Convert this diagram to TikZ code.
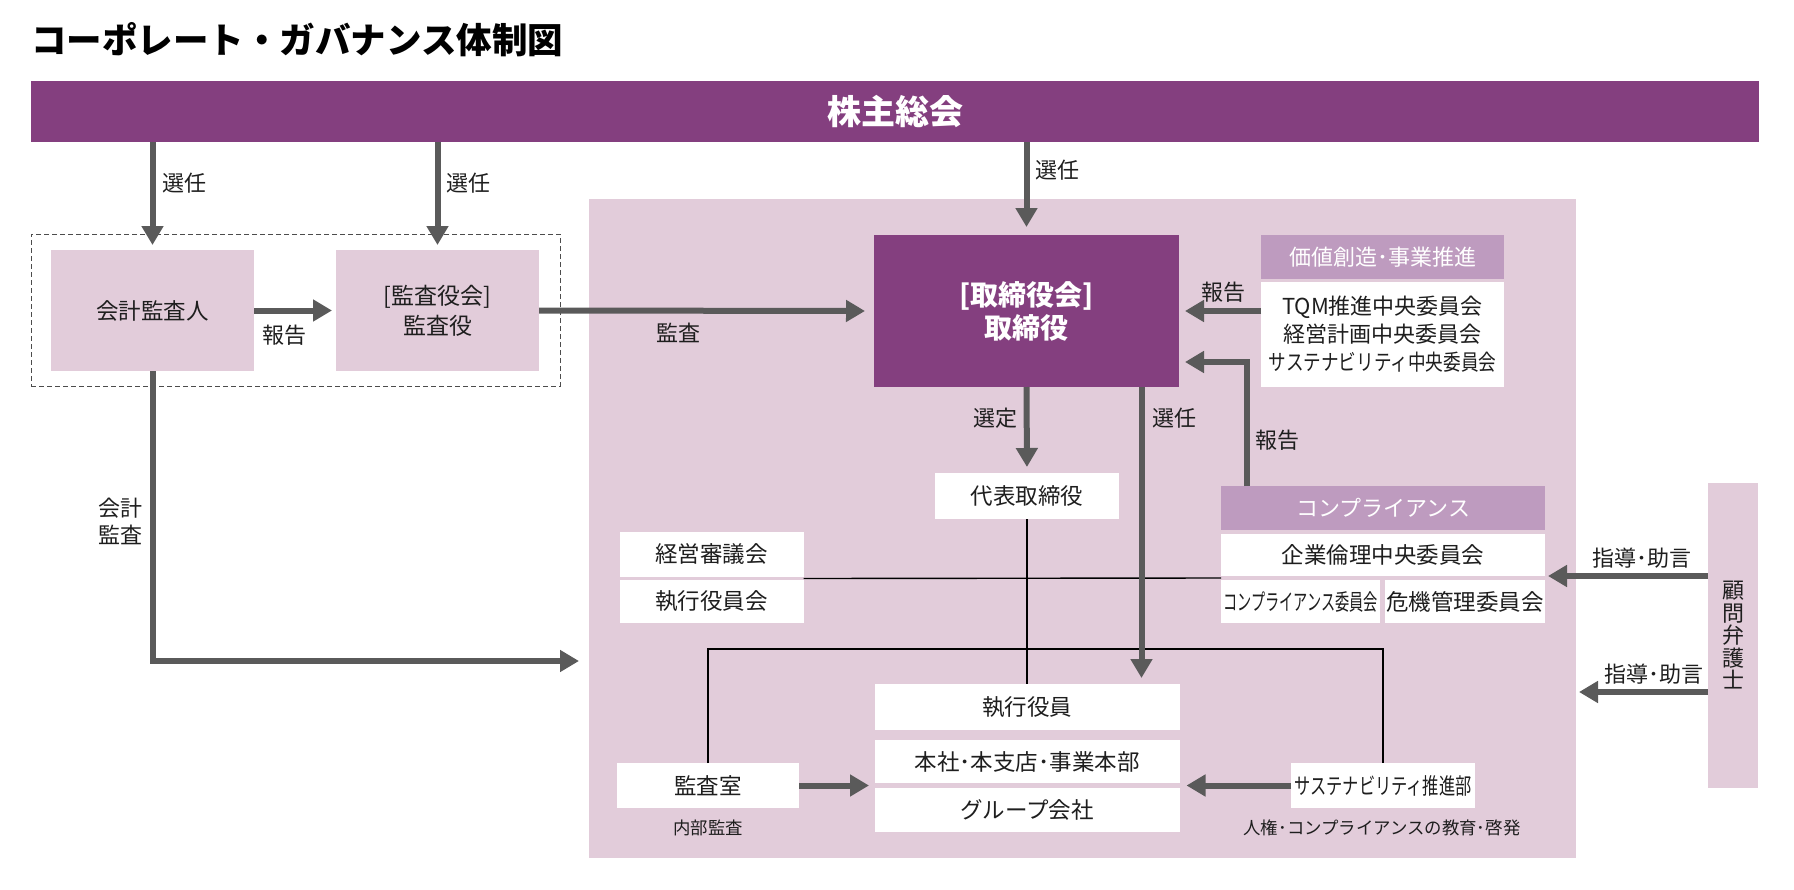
\documentclass[tikz,border=0pt]{standalone}
\usepackage{fontspec}
\setmainfont{Noto Sans CJK JP}
\newfontfamily\narrowtqm[FakeStretch=0.8]{Noto Sans CJK JP}
\newfontfamily\narrowsus[FakeStretch=0.72]{Noto Sans CJK JP}
\newfontfamily\narrowcomp[FakeStretch=0.63]{Noto Sans CJK JP}
\usepackage{tikz}
\usetikzlibrary{arrows.meta}
\usetikzlibrary{calc}
\usetikzlibrary{positioning}
\definecolor{gpurple}{HTML}{843F7F}
\definecolor{gheader}{HTML}{BE9BBF}
\definecolor{gpink}{HTML}{E2CCDA}
\definecolor{garrowc}{HTML}{5A5A5A}
\definecolor{gtext}{HTML}{1E1E1E}
\tikzset{
    gbox/.style={inner sep=0pt, outer sep=0pt, align=center, text=gtext, font=\fontsize{22.5pt}{28pt}\selectfont},
    pinkbox/.style={gbox, fill=gpink},
    whitebox/.style={gbox, fill=white},
    headbox/.style={gbox, fill=gheader, text=white, font=\fontsize{22pt}{28pt}\selectfont},
    lbl/.style={inner sep=0pt, align=center, text=gtext, font=\fontsize{22pt}{27pt}\selectfont},
    smalllbl/.style={inner sep=0pt, text=gtext, font=\fontsize{17.4pt}{20pt}\selectfont},
    garrow/.style={draw=garrowc, line width=6pt, -{Triangle[width=21pt,length=19pt]}},
    thinline/.style={draw=black, line width=1.4pt},
}

\begin{document}
\begin{tikzpicture}[x=1pt,y=-1pt]
        \useasboundingbox (0,0) rectangle (1794,889);
        \node[anchor=west, inner sep=0pt, text=black, font=\fontsize{35.5pt}{40pt}\selectfont\bfseries] (title) at (31,40) {コーポレート・ガバナンス体制図};
        \node[gbox, fill=gpurple, text=white, minimum width=1728pt, minimum height=61pt, font=\fontsize{34pt}{40pt}\selectfont\bfseries] (meeting) at (895,111.5) {株主総会};
        % areas
        \node[fill=gpink, inner sep=0pt, minimum width=987pt, minimum height=659pt] (area) at (1082.5,528.5) {};
        \node[draw=black!70, line width=1pt, dash pattern=on 5pt off 3pt, inner sep=0pt, minimum width=529pt, minimum height=152pt] (auditgrp) at (295.5,310) {};
        \node[pinkbox, minimum width=203pt, minimum height=121pt] (cpa) at (152.5,310.5) {会計監査人};
        \node[pinkbox, minimum width=203pt, minimum height=121pt, font=\fontsize{23pt}{30pt}\selectfont] (auditors) at (437.5,310.5) {[監査役会]\\監査役};
        \node[gbox, fill=gpurple, text=white, minimum width=305pt, minimum height=152pt, font=\fontsize{28pt}{33pt}\selectfont\bfseries] (board) at (1026.5,311) {[取締役会]\\取締役};
        \node[headbox, minimum width=243pt, minimum height=44pt] (valuehead) at (1382.5,257) {価値創造･事業推進};
        \node[whitebox, minimum width=243pt, minimum height=105pt, font=\fontsize{22pt}{28pt}\selectfont] (tqm) at (1382.5,334.5) {TQM推進中央委員会\\経営計画中央委員会\\{\narrowtqm サステナビリティ中央委員会}};
        \node[whitebox, minimum width=184pt, minimum height=46pt] (rep) at (1027,496) {代表取締役};
        \node[whitebox, minimum width=184pt, minimum height=45pt] (council) at (711.5,554.5) {経営審議会};
        \node[whitebox, minimum width=184pt, minimum height=43pt] (officers) at (711.5,601.5) {執行役員会};
        \node[headbox, minimum width=324pt, minimum height=44pt] (comphead) at (1383,508) {コンプライアンス};
        \node[whitebox, minimum width=324pt, minimum height=42pt] (ethics) at (1383,555) {企業倫理中央委員会};
        \node[whitebox, minimum width=159pt, minimum height=43pt] (compcom) at (1300.5,601.5) {\narrowcomp コンプライアンス委員会};
        \node[whitebox, minimum width=160pt, minimum height=43pt] (crisis) at (1465,601.5) {危機管理委員会};
        \node[pinkbox, minimum width=50pt, minimum height=305pt, font=\fontsize{22pt}{22.5pt}\selectfont] (lawyer) at (1733,635.5) {顧\\問\\弁\\護\\士};
        \node[whitebox, minimum width=305pt, minimum height=46pt] (exec) at (1027,707) {執行役員};
        \node[whitebox, minimum width=305pt, minimum height=43pt] (head) at (1027,761.5) {本社･本支店･事業本部};
        \node[whitebox, minimum width=305pt, minimum height=44pt] (group) at (1027,810) {グループ会社};
        \node[whitebox, minimum width=182pt, minimum height=45pt] (auditroom) at (708,785.5) {監査室};
        \node[whitebox, minimum width=184pt, minimum height=45pt] (susdept) at (1383,785.5) {\narrowsus サステナビリティ推進部};
        \node[smalllbl] (internal) at (708,828) {内部監査};
        \node[smalllbl] (edu) at (1382,828) {人権･コンプライアンスの教育･啓発};
        % thin lines
        \draw[thinline] (rep.south) -- (rep.south |- exec.north);
        \draw[thinline] ($(council.south east)!0.5!(officers.north east)$) -- ($(ethics.south west)!0.5!(compcom.north west)$);
        \draw[thinline] (auditroom.north) -- ++(0,-114) -| (susdept.north);
        % arrows
        \coordinate (cpaend) at (579,661);
        \coordinate (advend) at (1579,692);
        \draw[garrow, shorten >=5pt] (meeting.south -| cpa.north) -- (cpa.north);
        \draw[garrow, shorten >=5pt] (meeting.south -| auditors.north) -- (auditors.north);
        \draw[garrow, shorten >=8pt] (meeting.south -| board.north) -- (board.north);
        \draw[garrow, shorten >=4pt] (cpa.east) -- (auditors.west);
        \draw[garrow, shorten >=9pt] (auditors.east) -- (board.west);
        \draw[garrow] (cpa.south) |- (cpaend);
        \draw[garrow, shorten >=6pt] (tqm.west |- board.east) -- (board.east);
        \draw[garrow, shorten >=6pt] ([xshift=25.5pt]comphead.north west) |- ([yshift=-51pt]board.east);
        \draw[garrow, shorten >=6pt] (board.south) -- (rep.north);
        \draw[garrow, shorten >=6pt] ([xshift=-37.5pt]board.south east) coordinate (selstart) -- (selstart |- exec.north);
        \draw[garrow, shorten >=5.5pt] (auditroom.east) -- (auditroom.east -| head.west);
        \draw[garrow, shorten >=7pt] (susdept.west) -- (susdept.west -| head.east);
        \draw[garrow, shorten >=3pt] (lawyer.west |- ethics.south) -- (ethics.south east);
        \draw[garrow] (lawyer.west |- advend) -- (advend);
        % labels
        \node[lbl] (sel1) at (184,183) {選任};
        \node[lbl] (sel2) at (468,183) {選任};
        \node[lbl] (sel3) at (1057,170) {選任};
        \node[lbl] (rep1) at (284.5,335) {報告};
        \node[lbl] (audit1) at (678,333) {監査};
        \node[lbl] (rep2) at (1223,292) {報告};
        \node[lbl] (rep3) at (1277,440) {報告};
        \node[lbl] (choose) at (995,418) {選定};
        \node[lbl] (sel4) at (1174,418) {選任};
        \node[lbl] (acct) at (120,521.5) {会計\\監査};
        \node[lbl] (advice1) at (1642,558) {指導･助言};
        \node[lbl] (advice2) at (1654,674) {指導･助言};
\end{tikzpicture}
\end{document}
